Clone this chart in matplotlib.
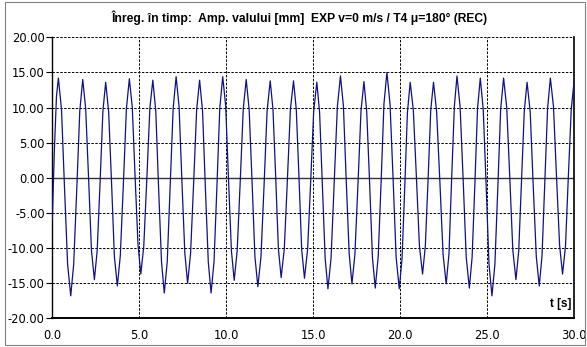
import matplotlib
matplotlib.use("Agg")
import matplotlib.pyplot as plt
from matplotlib.patches import Rectangle

plt.rcParams['font.family'] = ['Liberation Sans', 'DejaVu Sans']

t_s = [
    0.00, 0.12, 0.24, 0.35,
    0.53, 0.70, 0.88, 1.06, 1.23, 1.41, 1.58, 1.75,
    1.92, 2.09, 2.25, 2.42, 2.58, 2.75, 2.91, 3.07,
    3.24, 3.41, 3.57, 3.74, 3.91, 4.09, 4.26, 4.43,
    4.60, 4.76, 4.93, 5.09, 5.26, 5.44, 5.61, 5.78,
    5.95, 6.11, 6.28, 6.44, 6.61, 6.78, 6.95, 7.12,
    7.29, 7.45, 7.62, 7.78, 7.95, 8.13, 8.30, 8.47,
    8.64, 8.80, 8.97, 9.13, 9.30, 9.47, 9.63, 9.80,
    9.97, 10.13, 10.30, 10.46, 10.63, 10.81, 10.98, 11.15,
    11.32, 11.49, 11.65, 11.82, 12.00, 12.18, 12.35, 12.53,
    12.69, 12.85, 13.00, 13.16, 13.34, 13.52, 13.69, 13.87,
    14.03, 14.19, 14.34, 14.50, 14.68, 14.86, 15.03, 15.21,
    15.37, 15.53, 15.69, 15.85, 16.03, 16.21, 16.39, 16.57,
    16.74, 16.90, 17.07, 17.23, 17.40, 17.58, 17.75, 17.92,
    18.08, 18.25, 18.41, 18.57, 18.74, 18.91, 19.07, 19.24,
    19.42, 19.60, 19.77, 19.95, 20.11, 20.27, 20.42, 20.58,
    20.76, 20.94, 21.11, 21.29, 21.45, 21.61, 21.76, 21.92,
    22.10, 22.29, 22.47, 22.65, 22.81, 22.96, 23.12, 23.27,
    23.45, 23.63, 23.80, 23.98, 24.14, 24.30, 24.45, 24.61,
    24.78, 24.95, 25.11, 25.28, 25.45, 25.62, 25.78, 25.95,
    26.13, 26.31, 26.48, 26.66, 26.82, 26.98, 27.14, 27.30,
    27.48, 27.65, 27.83, 28.00, 28.16, 28.32, 28.48, 28.64,
    28.82, 28.99, 29.17, 29.34, 29.51, 29.67, 29.84, 30.00,
]
amp_mm = [
    -6.0, 4.0, 11.6, 14.2,
    9.7, -1.3, -12.3, -16.8, -12.3, -1.4, 9.5, 14.0,
    9.8, -0.3, -10.3, -14.5, -10.4, -0.5, 9.5, 13.6,
    9.4, -0.9, -11.2, -15.4, -11.1, -0.7, 9.8, 14.1,
    10.0, 0.2, -9.6, -13.7, -9.7, 0.1, 9.9, 13.9,
    9.5, -1.3, -12.0, -16.4, -11.9, -1.0, 9.9, 14.4,
    10.1, -0.3, -10.7, -15.0, -10.8, -0.6, 9.7, 13.9,
    9.5, -1.3, -12.0, -16.4, -11.9, -1.0, 9.9, 14.4,
    10.2, -0.1, -10.4, -14.6, -10.4, -0.3, 9.8, 14.0,
    9.7, -0.8, -11.2, -15.5, -11.2, -0.9, 9.5, 13.8,
    9.7, -0.2, -10.1, -14.2, -10.1, -0.2, 9.7, 13.8,
    9.7, -0.3, -10.2, -14.3, -10.2, -0.4, 9.5, 13.6,
    9.3, -1.1, -11.5, -15.8, -11.4, -0.7, 10.1, 14.5,
    10.2, -0.3, -10.8, -15.1, -10.9, -0.7, 9.5, 13.7,
    9.4, -1.0, -11.4, -15.7, -11.2, -0.4, 10.5, 15.0,
    10.5, -0.4, -11.3, -15.8, -11.5, -1.1, 9.3, 13.6,
    9.6, -0.1, -9.7, -13.7, -9.7, -0.1, 9.6, 13.6,
    9.4, -0.8, -10.9, -15.1, -10.8, -0.3, 10.2, 14.5,
    10.1, -0.6, -11.3, -15.7, -11.3, -0.8, 9.8, 14.2,
    9.7, -1.3, -12.3, -16.8, -12.3, -1.3, 9.7, 14.2,
    10.0, -0.2, -10.3, -14.5, -10.4, -0.5, 9.5, 13.6,
    9.4, -0.9, -11.2, -15.4, -11.1, -0.6, 9.9, 14.2,
    10.1, 0.3, -9.6, -13.7, -9.7, 0.0, 9.7, 13.7,
]

x_ticks = [0, 5, 10, 15, 20, 25, 30]
y_ticks = [-20, -15, -10, -5, 0, 5, 10, 15, 20]

title = "Înreg. în timp:  Amp. valului [mm]  EXP v=0 m/s / T4 μ=180° (REC)"

fig = plt.figure(figsize=(5.87, 3.47), dpi=100)
ax = fig.add_axes([0.0891, 0.0827, 0.8888, 0.8098])

# outer chart-area frame
fig.patches.append(Rectangle((0.009, 0.006), 0.988, 0.988, transform=fig.transFigure,
                             fill=False, edgecolor='#808080', linewidth=0.8))

ax.plot(t_s, amp_mm, color='#10108a', linewidth=0.9, zorder=3)

ax.set_xlim(0, 30)
ax.set_ylim(-20, 20)
ax.set_xticks(x_ticks)
ax.set_yticks(y_ticks)
tick_font = {'family': ['DejaVu Sans'], 'size': 8.3}
ax.set_xticklabels(['%.1f' % v for v in x_ticks], fontdict=tick_font)
ax.set_yticklabels(['%.2f' % v for v in y_ticks], fontdict=tick_font)

ax.grid(True, color='black', linestyle=(0, (2.5, 1.5)), linewidth=0.7)
ax.axhline(0, color='#333333', linewidth=1.0, zorder=2)

ax.tick_params(axis='x', length=0, pad=8)
ax.tick_params(axis='y', length=4, width=0.8, pad=1.5)

ax.spines['left'].set_linewidth(1.0)
ax.spines['bottom'].set_linewidth(1.4)
ax.spines['top'].set_visible(False)
ax.spines['right'].set_linestyle((0, (2.5, 1.0)))
ax.spines['right'].set_linewidth(1.2)

ax.text(29.85, -17.9, 't [s]', fontsize=8.5, fontweight='bold', ha='right', va='center')
fig.text(0.51, 0.95, title, fontsize=8.7, fontweight='bold', ha='center', va='center')

plt.savefig("out.png", dpi=100)
